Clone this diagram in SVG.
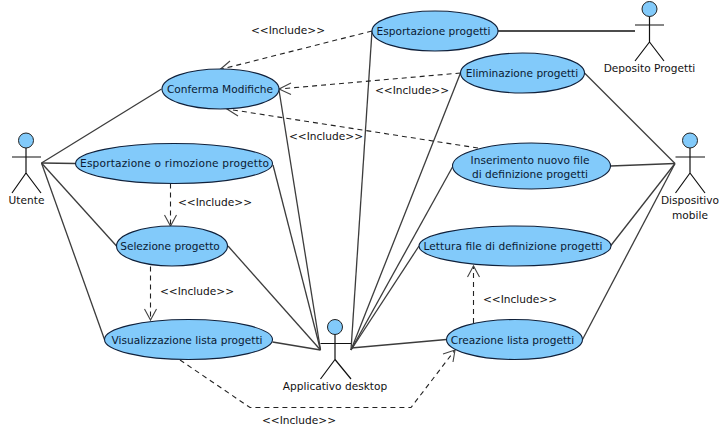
<svg xmlns="http://www.w3.org/2000/svg" width="723" height="434" viewBox="0 0 723 434">
<style>
text{font-family:"DejaVu Sans",sans-serif;font-size:10.6px;fill:#111;text-anchor:middle}
.n text{fill:#0a1a33}
.n ellipse{fill:#82cafa;stroke:#10203a;stroke-width:1.1}
.a circle{fill:#82cafa;stroke:#222;stroke-width:1}
.a path{fill:none;stroke:#111;stroke-width:1.2}
.s{fill:none;stroke:#3c3c3c;stroke-width:1.3}
.d{fill:none;stroke:#222;stroke-width:1.1;stroke-dasharray:5 4}
.h{fill:none;stroke:#444;stroke-width:1.1}
</style>
<g id="connectors">
<path class="s" d="M41.5 163L161.5 89"/>
<path class="s" d="M41.5 163L75.5 163.500"/>
<path class="s" d="M41.5 163L116.500 246"/>
<path class="s" d="M41.500 163L104.500 339.500"/>
<path class="s" d="M279 90L320.500 350"/>
<path class="s" d="M273 165L320.500 350"/>
<path class="s" d="M228 246L320.500 350"/>
<path class="s" d="M272.500 342L320.500 350"/>
<path class="s" d="M372 31L351 350"/>
<path class="s" d="M460.500 73L351 350"/>
<path class="s" d="M452.500 167L351 350"/>
<path class="s" d="M419 246L351 350"/>
<path class="s" d="M446.500 339.500L351 348"/>
<path class="s" style="stroke:#111" d="M498 31L635 31"/>
<path class="s" d="M584.500 73L675 163.500"/>
<path class="s" d="M610.500 166L675 163.500"/>
<path class="s" d="M610.500 246L675 163.500"/>
<path class="s" d="M582.500 339.500L675 163.500"/>
<path class="d" d="M372 31L220 69.500"/>
<path class="h" d="M230 61L220 69.500L233 72"/>
<path class="d" d="M460.500 73L279 89"/>
<path class="h" d="M291 83L279 89L291 94.500"/>
<path class="d" d="M478 148L227 109"/>
<path class="h" d="M239 104L227 109L238 116"/>
<path class="d" d="M170.500 183.500L170.500 226"/>
<path class="h" d="M164.500 215L170.500 226L176.500 215"/>
<path class="d" d="M150.500 266.500L150.500 320"/>
<path class="h" d="M144.500 309L150.500 320L156.500 309"/>
<path class="d" d="M473.500 323L473.500 266"/>
<path class="h" d="M467.500 277L473.500 266L479.500 277"/>
<path class="d" d="M180 360L250 407.500L411 407.500L455 350"/>
<path class="h" d="M443 354L455 350L453 362"/>
</g>
<g id="labels">
<text x="288" y="34">&lt;&lt;Include&gt;&gt;</text>
<text x="412" y="94">&lt;&lt;Include&gt;&gt;</text>
<text x="326" y="140">&lt;&lt;Include&gt;&gt;</text>
<text x="215" y="206">&lt;&lt;Include&gt;&gt;</text>
<text x="197" y="295">&lt;&lt;Include&gt;&gt;</text>
<text x="520" y="303">&lt;&lt;Include&gt;&gt;</text>
<text x="299" y="424">&lt;&lt;Include&gt;&gt;</text>
</g>
<g id="uc-conferma" class="n"><ellipse cx="220.500" cy="89" rx="58.500" ry="20"/><text x="220" y="93">Conferma Modifiche</text></g>
<g id="uc-esportazione-rimozione" class="n"><ellipse cx="174" cy="163.500" rx="98.500" ry="20"/><text x="174.500" y="167" textLength="189">Esportazione o rimozione progetto</text></g>
<g id="uc-selezione" class="n"><ellipse cx="172" cy="246" rx="55.500" ry="20"/><text x="170" y="250">Selezione progetto</text></g>
<g id="uc-visualizzazione" class="n"><ellipse cx="188.500" cy="339.500" rx="84" ry="20"/><text x="187" y="343.500">Visualizzazione lista progetti</text></g>
<g id="uc-esportazione" class="n"><ellipse cx="435" cy="31" rx="63" ry="20"/><text x="433.500" y="35">Esportazione progetti</text></g>
<g id="uc-eliminazione" class="n"><ellipse cx="522.500" cy="73" rx="62" ry="20"/><text x="522" y="77">Eliminazione progetti</text></g>
<g id="uc-inserimento" class="n"><ellipse cx="531.500" cy="166" rx="79" ry="23"/><text x="530" y="163.500">Inserimento nuovo file</text><text x="530" y="177.500">di definizione progetti</text></g>
<g id="uc-lettura" class="n"><ellipse cx="515" cy="246" rx="96" ry="20"/><text x="513" y="250" textLength="179">Lettura file di definizione progetti</text></g>
<g id="uc-creazione" class="n"><ellipse cx="514.500" cy="339.500" rx="68" ry="20"/><text x="512.500" y="343.500">Creazione lista progetti</text></g>
<g id="actor-utente" class="a"><circle cx="26" cy="140.500" r="7.500"/><path d="M26 148V173M12 157H41M26 173L12 193M26 173L41 193"/><text x="26.500" y="204">Utente</text></g>
<g id="actor-deposito" class="a"><circle cx="649.500" cy="9" r="7.500"/><path d="M649.500 16.500V42M635 25H664M649.500 42L635 61M649.500 42L664 61"/><text x="649.500" y="72">Deposito Progetti</text></g>
<g id="actor-dispositivo" class="a"><circle cx="690" cy="140.500" r="7.500"/><path d="M690 148V173M675.500 157H705M690 173L675.500 193M690 173L705 193"/><text x="690" y="204">Dispositivo</text><text x="690" y="219">mobile</text></g>
<g id="actor-applicativo" class="a"><circle cx="335" cy="327" r="7.500"/><path d="M335 334.500V359.500M320.500 343.500H351M335 359.500L320.500 379M335 359.500L351 379"/><text x="335" y="390">Applicativo desktop</text></g>
</svg>
